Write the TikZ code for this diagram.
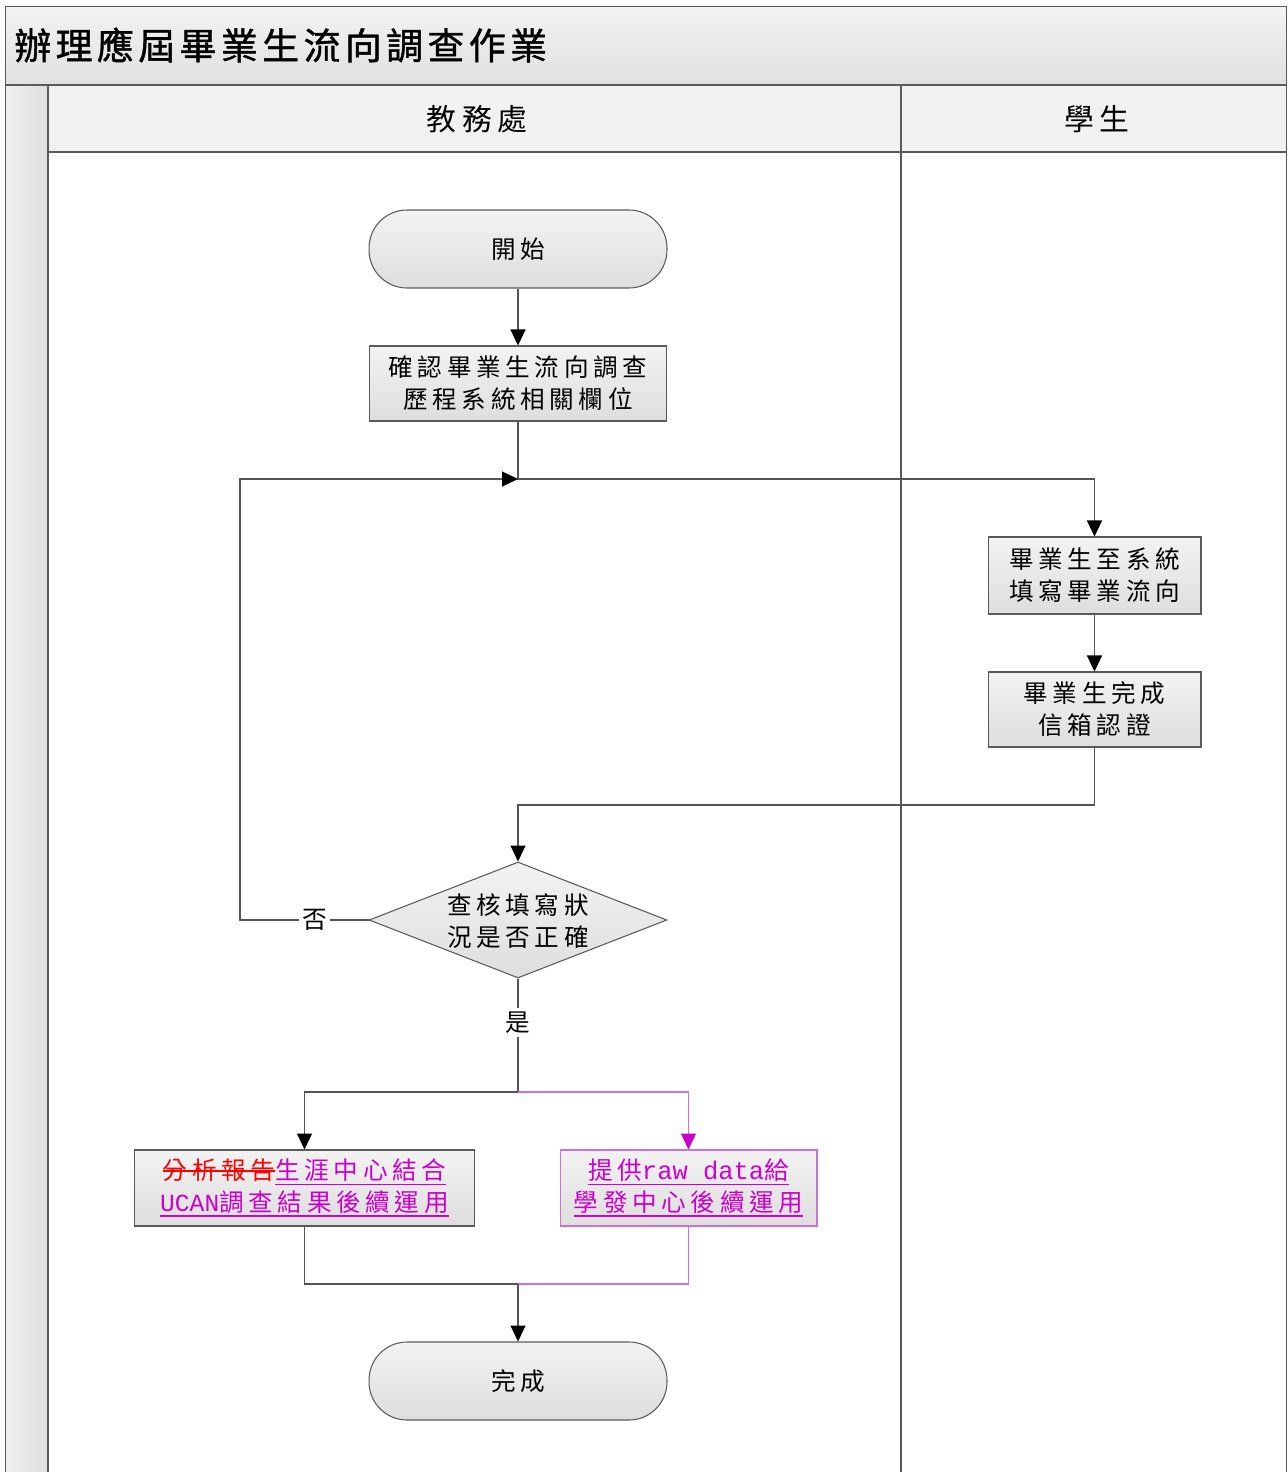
\documentclass[tikz,border=0pt]{standalone}
\usepackage{fontspec}
\usetikzlibrary{shapes.geometric,arrows.meta}
\newfontfamily\cjkbox[LetterSpace=19]{Noto Sans CJK TC}
\newfontfamily\cjkhead[LetterSpace=20]{Noto Sans CJK TC}
\newfontfamily\cjktitle[LetterSpace=12,FakeBold=1.2]{Noto Sans CJK TC}
\newfontfamily\latmono{Liberation Mono}
\definecolor{mag}{HTML}{CC00CC}
\definecolor{magline}{HTML}{D070D0}
\definecolor{framec}{HTML}{5A5A5A}
\definecolor{connc}{HTML}{555555}
\newcommand\myul[1]{\setbox0\hbox{#1}\rlap{\rule[-0.2em]{\wd0}{0.055em}}\box0}
\newcommand\mystrike[1]{\setbox0\hbox{#1}\rlap{\rule[0.32em]{\wd0}{0.07em}}\box0}
\tikzset{
  boxfill/.style={top color=white!95!black, bottom color=white!87!black},
  procbox/.style={draw=framec, line width=0.6pt, boxfill, inner sep=0pt, align=center,
    font=\cjkbox\fontsize{14pt}{18.2pt}\selectfont},
  termbox/.style={procbox, rounded corners=0.76cm, minimum width=5.96cm, minimum height=1.56cm},
  diabox/.style={draw=framec, line width=0.6pt, boxfill, shape=diamond, inner sep=0pt,
    minimum width=5.96cm, minimum height=2.32cm},
  plaintext/.style={inner sep=0pt, align=center, font=\cjkbox\fontsize{14pt}{18.2pt}\selectfont},
  lbl/.style={fill=white, inner sep=2pt, font=\cjkbox\fontsize{14pt}{16pt}\selectfont},
  conn/.style={draw=connc, line width=0.6pt},
  arr/.style={conn, -{Triangle[length=0.32cm, width=0.3cm, color=black]}},
  magconn/.style={draw=magline, line width=0.6pt},
  magarr/.style={magconn, -{Triangle[length=0.32cm, width=0.3cm, color=mag]}},
  headtext/.style={inner sep=0pt, font=\cjkhead\fontsize{17pt}{19pt}\selectfont},
}
\begin{document}
\begin{tikzpicture}[x=0.02cm, y=-0.02cm]
\useasboundingbox (0,0) rectangle (1288,1472);
% backgrounds
\fill[top color=white!95!black, bottom color=white!88!black] (5,6) rectangle (1287,85);
\fill[left color=white!94!black, right color=white!87!black] (5,85) rectangle (48,1472);
\fill[white!94.5!black] (48,85) rectangle (1287,152);
% frame lines
\draw[framec, line width=0.7pt] (5.5,1472) -- (5.5,6.5) -- (1286.5,6.5) -- (1286.5,1472);
\draw[framec, line width=0.7pt] (5,85) -- (1287,85);
\draw[framec, line width=0.7pt] (48,152) -- (1287,152);
\draw[framec, line width=0.7pt] (48,85) -- (48,1472);
\draw[framec, line width=0.7pt] (901,85) -- (901,1472);
% titles
\node[anchor=west, inner sep=0pt, font=\cjktitle\fontsize{21pt}{24pt}\selectfont] (title) at (14,45) {辦理應屆畢業生流向調查作業};
\node[headtext] (h1) at (477,119) {教務處};
\node[headtext] (h2) at (1097,119) {學生};
% nodes
\node[termbox] (start) at (518,249) {開始};
\node[procbox, minimum width=5.94cm, minimum height=1.5cm] (b1) at (518,383.5) {確認畢業生流向調查\\歷程系統相關欄位};
\node[procbox, minimum width=4.26cm, minimum height=1.54cm] (b2) at (1094.5,575.5) {畢業生至系統\\填寫畢業流向};
\node[procbox, minimum width=4.26cm, minimum height=1.5cm] (b3) at (1094.5,709.5) {畢業生完成\\信箱認證};
\node[diabox] (dia) at (518,920) {};
\node[plaintext] (diat) at (518,921) {查核填寫狀\\況是否正確};
\node[procbox, minimum width=6.82cm, minimum height=1.52cm] (b4) at (304.5,1188)
  {{\color{red}\mystrike{分析報告}}{\color{mag}\myul{生涯中心結合}}\\
   {\color{mag}\myul{{\latmono\fontsize{14pt}{16pt}\selectfont UCAN}調查結果後續運用}}};
\node[procbox, draw=magline, minimum width=5.14cm, minimum height=1.52cm] (b5) at (688.5,1188)
  {{\color{mag}\myul{提供{\latmono\fontsize{14.5pt}{16pt}\selectfont raw data}給}}\\
   {\color{mag}\myul{學發中心後續運用}}};
\node[termbox] (end) at (518,1381) {完成};
% junction coordinates
\coordinate (j1) at (518,479);
\coordinate (j2) at (518,805);
\coordinate (c1) at (240,920);
\coordinate (c2) at (240,479);
\coordinate (j3) at (518,1092);
\coordinate (j4) at (518,1284);
% connectors
\draw[arr] (start) -- (b1);
\draw[arr] (b1.south) -- (j1) -| (b2.north);
\draw[arr] (b2) -- (b3);
\draw[arr] (b3.south) |- (j2) -- (dia.north);
\draw[arr] (dia.west) -- node[lbl, pos=0.42] (no) {否} (c1) -- (c2) -- (j1);
\draw[conn] (dia.south) -- node[lbl, pos=0.39] (yes) {是} (j3);
\draw[arr] (j3) -| (b4.north);
\draw[magarr] (j3) -| (b5.north);
\draw[conn] (b4.south) |- (j4);
\draw[magconn] (b5.south) |- (j4);
\draw[arr] (j4) -- (end.north);
\end{tikzpicture}
\end{document}
